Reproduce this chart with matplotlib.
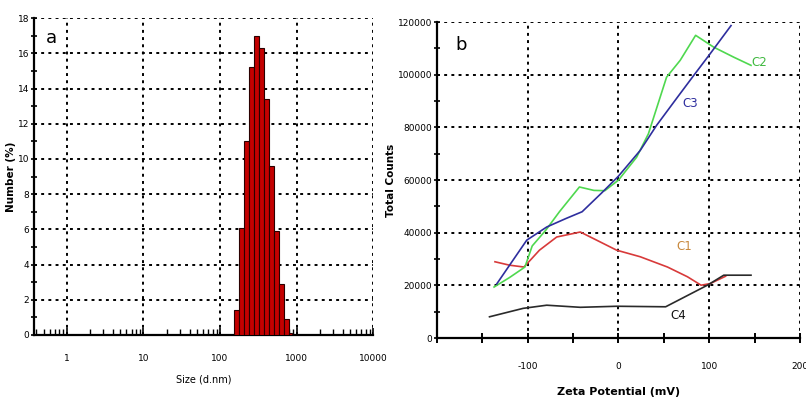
import numpy as np
import matplotlib
matplotlib.use("Agg")
import matplotlib.pyplot as plt
from matplotlib.ticker import LogLocator, NullFormatter, MultipleLocator, FixedLocator

# panel a: size distribution by number
size_edges = [152, 177, 206, 239, 278, 323, 376, 437, 508, 591, 687, 800, 860]
number_pct = [1.4, 6.1, 11.0, 15.2, 17.0, 16.3, 13.4, 9.6, 5.9, 2.9, 0.9, 0.1]

# panel b: zeta potential distributions
c1_x = [-136, -120, -104, -87, -68, -42, -24, -2, 24, 54, 76, 91, 101, 118]
c1_y = [29000, 27700, 27000, 33400, 38400, 40300, 37200, 33400, 30900, 27000, 23300, 20100, 20700, 23500]
c2_x = [-137, -120, -103, -95, -80, -65, -43, -27, -15, 0, 20, 33, 53, 68, 85, 105, 127, 146]
c2_y = [19400, 23000, 27000, 35000, 41000, 48000, 57400, 56100, 56000, 60000, 68700, 77600, 99100, 105500, 115000, 110500, 106700, 103600]
c3_x = [-134, -101, -79, -58, -40, -18, 0, 24, 42, 65, 83, 101, 124]
c3_y = [20600, 37200, 42200, 45400, 48000, 55300, 61500, 71300, 80800, 91500, 99800, 108000, 118700]
c4_x = [-142, -105, -79, -42, -2, 52, 98, 116, 146]
c4_y = [8100, 11300, 12500, 11700, 12100, 11900, 20100, 23900, 23900]

series = [
    ("C1", c1_x, c1_y, "#d83a3a", "#c8883c", (72, 34700)),
    ("C2", c2_x, c2_y, "#4fd84f", "#3fb83f", (155, 104800)),
    ("C3", c3_x, c3_y, "#2e2e9e", "#2e2e9e", (79, 89200)),
    ("C4", c4_x, c4_y, "#2a2a2a", "#111111", (66, 8700)),
]

narrow = ["Liberation Sans Narrow", "DejaVu Sans"]
grid_kw = dict(color="black", linestyle=(0, (1.5, 2.2)), linewidth=1.4)

fig = plt.figure(figsize=(8.06, 4.03), dpi=100)

# ---- panel a ----
ax1 = fig.add_axes([0.042, 0.169, 0.421, 0.786])
edges = np.array(size_edges, dtype=float)
ax1.bar(edges[:-1], number_pct, width=np.diff(edges), align="edge",
        color="#c40000", edgecolor="#2a0000", linewidth=0.8, zorder=3)
ax1.set_xscale("log")
ax1.set_xlim(0.37, 10000)
ax1.set_ylim(0, 18)
ax1.xaxis.set_major_locator(FixedLocator([1, 10, 100, 1000, 10000]))
ax1.set_xticklabels(["1", "10", "100", "1000", "10000"])
ax1.xaxis.set_minor_locator(LogLocator(base=10, subs=np.arange(2, 10)))
ax1.xaxis.set_minor_formatter(NullFormatter())
ax1.yaxis.set_major_locator(MultipleLocator(2))
ax1.yaxis.set_minor_locator(MultipleLocator(1))
ax1.grid(True, which="major", zorder=0, **grid_kw)
ax1.set_axisbelow(True)
for s in ["top", "right"]:
    ax1.spines[s].set_visible(False)
for s in ["left", "bottom"]:
    ax1.spines[s].set_linewidth(1.6)
ax1.tick_params(axis="x", which="major", direction="in", length=5, width=1.2, pad=14)
ax1.tick_params(axis="x", which="minor", direction="in", length=4, width=1.0)
ax1.tick_params(axis="y", which="both", direction="inout", length=5, width=1.2, pad=1)
for lab in ax1.get_xticklabels() + ax1.get_yticklabels():
    lab.set_family(narrow)
    lab.set_fontsize(6.5)
ax1.set_xlabel("Size (d.nm)", fontsize=7, family=narrow, labelpad=8)
ax1.set_ylabel("Number (%)", fontsize=7.5, fontweight="bold", labelpad=1)
ax1.text(0.035, 0.965, "a", transform=ax1.transAxes, fontsize=13, va="top")

# ---- panel b ----
ax2 = fig.add_axes([0.542, 0.161, 0.4506, 0.784])
for name, xs, ys, col, tcol, pos in series:
    ax2.plot(xs, ys, color=col, linewidth=1.2, zorder=3)
    ax2.text(pos[0], pos[1], name, color=tcol, fontsize=8.5, family=narrow,
             ha="center", va="center", zorder=4)
ax2.set_xlim(-200, 200)
ax2.set_ylim(0, 120000)
ax2.xaxis.set_major_locator(MultipleLocator(100))
ax2.xaxis.set_minor_locator(MultipleLocator(50))
ax2.yaxis.set_major_locator(MultipleLocator(20000))
ax2.yaxis.set_minor_locator(MultipleLocator(10000))
ax2.grid(True, which="major", zorder=0, **grid_kw)
ax2.set_axisbelow(True)
for s in ["top", "right"]:
    ax2.spines[s].set_visible(False)
for s in ["left", "bottom"]:
    ax2.spines[s].set_linewidth(1.6)
ax2.tick_params(axis="x", which="both", direction="inout", length=7, width=1.4, pad=14)
ax2.tick_params(axis="y", which="both", direction="inout", length=5, width=1.2, pad=1)
ax2.set_xticks([-100, 0, 100, 200])
ax2.set_xticklabels(["-100", "0", "100", "200"])
for lab in ax2.get_xticklabels() + ax2.get_yticklabels():
    lab.set_family(narrow)
    lab.set_fontsize(6.5)
ax2.set_xlabel("Zeta Potential (mV)", fontsize=8, family=narrow, fontweight="bold", labelpad=11)
ax2.set_ylabel("Total Counts", fontsize=7.5, fontweight="bold", labelpad=1)
ax2.text(0.05, 0.955, "b", transform=ax2.transAxes, fontsize=13, va="top")

fig.savefig("out.png", dpi=100)
